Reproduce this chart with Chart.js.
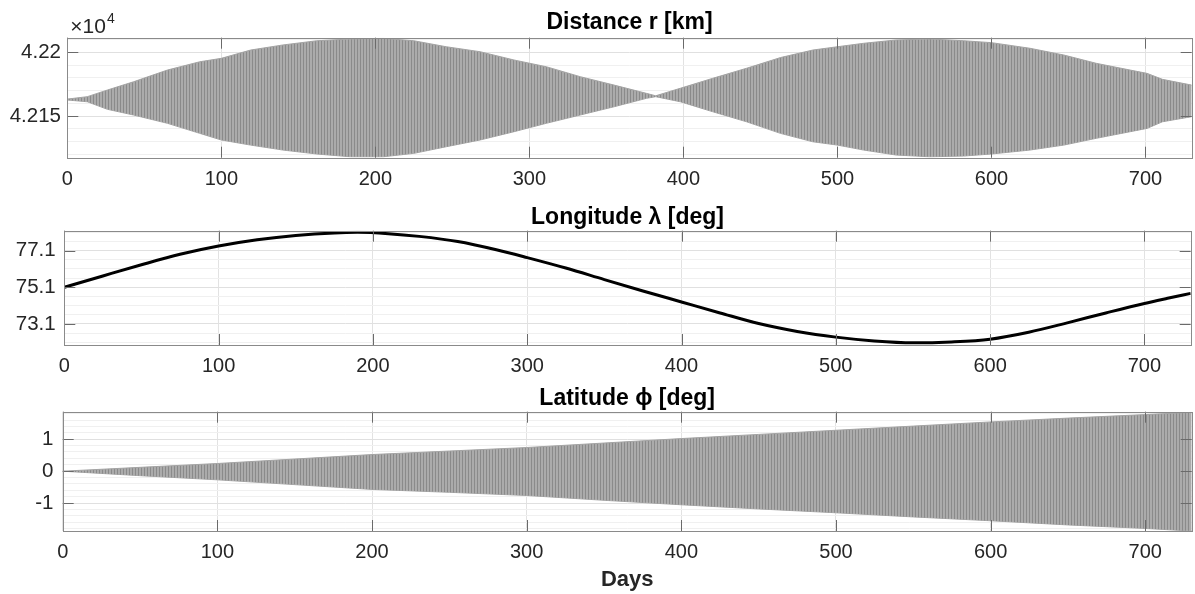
<!DOCTYPE html>
<html><head><meta charset="utf-8">
<script src="https://cdn.jsdelivr.net/npm/chart.js@4.4.1/dist/chart.umd.min.js"></script>
<style>
html,body{margin:0;padding:0;background:#fff;width:1195px;height:594px;overflow:hidden}
canvas{position:absolute;left:0}
</style></head><body>
<canvas id="c1" width="1195" height="195" style="top:0px"></canvas>
<canvas id="c2" width="1195" height="190" style="top:195px"></canvas>
<canvas id="c3" width="1195" height="214" style="top:380px"></canvas>
<script>
// ---------- data ----------
const dayTicks = [0, 100, 200, 300, 400, 500, 600, 700];

// Distance r [km]: envelope of the daily oscillation
const rDays  = [0, 13, 26, 43, 65, 86, 100, 119, 140, 162, 184, 205, 225, 246, 268, 290, 311, 333, 355, 376, 382, 398, 419, 441, 463, 484, 500, 517, 538, 560, 582, 600, 625, 647, 668, 690, 701, 711, 730];
const rUpper = [42163.3, 42165.2, 42170.4, 42176.9, 42186.1, 42192.6, 42195.3, 42201.8, 42205.8, 42209.1, 42210.5, 42211.0, 42209.1, 42204.4, 42200.5, 42194.0, 42188.7, 42180.9, 42174.3, 42167.8, 42165.9, 42171.8, 42179.6, 42187.5, 42195.9, 42201.8, 42204.4, 42207.1, 42209.7, 42210.5, 42209.1, 42207.6, 42203.2, 42197.9, 42191.4, 42186.1, 42183.5, 42178.8, 42174.3];
const rLower = [42162.6, 42161.2, 42155.3, 42150.8, 42144.3, 42136.4, 42131.2, 42127.2, 42123.3, 42120.2, 42118.0, 42118.0, 42120.7, 42125.9, 42131.2, 42137.7, 42144.3, 42150.8, 42157.3, 42163.9, 42165.2, 42161.2, 42153.4, 42145.5, 42136.4, 42129.8, 42127.2, 42123.3, 42119.4, 42118.0, 42118.6, 42120.2, 42123.3, 42127.2, 42132.5, 42137.7, 42140.3, 42145.5, 42149.5];
const rMajorTicks = [42150, 42200];
const rGridTicks  = [42120, 42130, 42140, 42150, 42160, 42170, 42180, 42190, 42200, 42210];

// Longitude lambda [deg]
const lonDays = [0, 25, 50, 75, 100, 125, 150, 175, 190, 210, 230, 255, 280, 300, 325, 350, 375, 400, 425, 450, 475, 500, 525, 550, 575, 600, 625, 650, 675, 700, 715, 730];
const lonVals = [75.10, 75.72, 76.33, 76.90, 77.35, 77.69, 77.93, 78.07, 78.10, 78.03, 77.88, 77.60, 77.15, 76.72, 76.15, 75.52, 74.90, 74.30, 73.70, 73.12, 72.69, 72.38, 72.17, 72.07, 72.12, 72.27, 72.65, 73.16, 73.70, 74.22, 74.50, 74.77];
const lonMajorTicks = [73.1, 75.1, 77.1];
const lonGridTicks  = [72.1, 72.6, 73.1, 73.6, 74.1, 74.6, 75.1, 75.6, 76.1, 76.6, 77.1, 77.6, 78.1];

// Latitude phi [deg]: envelope of the daily oscillation
const latDays  = [0, 50, 100, 150, 200, 250, 300, 350, 400, 450, 500, 550, 600, 650, 700, 730];
const latUpper = [0, 0.12, 0.24, 0.38, 0.52, 0.63, 0.74, 0.88, 1.02, 1.15, 1.28, 1.41, 1.54, 1.66, 1.77, 1.84];
const latLower = [0, -0.14, -0.27, -0.42, -0.57, -0.66, -0.76, -0.91, -1.05, -1.18, -1.30, -1.43, -1.55, -1.68, -1.79, -1.87];
const latMajorTicks = [-1, 0, 1];
const latGridTicks  = [-1.8, -1.6, -1.4, -1.2, -1, -0.8, -0.6, -0.4, -0.2, 0, 0.2, 0.4, 0.6, 0.8, 1, 1.2, 1.4, 1.6, 1.8];

// ---------- styling ----------
const FONT = '"Liberation Sans", Arial, Helvetica, sans-serif';
const TS = 23; // title font size
Chart.defaults.font.family = FONT;
Chart.defaults.color = '#262626';

function stripePattern() {
  const c = document.createElement('canvas'); c.width = 3; c.height = 1;
  const g = c.getContext('2d');
  g.fillStyle = '#ababab'; g.fillRect(0, 0, 3, 1);
  g.fillStyle = '#8a8a8a'; g.fillRect(0, 0, 1, 1);
  return g.createPattern(c, 'repeat');
}
const bandFill = stripePattern();

const isIn = (arr, v) => arr.some(a => Math.abs(a - v) < 1e-6);
const pts = (xs, ys) => xs.map((x, i) => ({ x: x, y: ys[i] }));

const boxPlugin = {
  id: 'box',
  afterDraw(chart, args, opts) {
    const { ctx, chartArea: a, scales } = chart;
    const tl = 11;
    ctx.save();
    ctx.lineWidth = 1;
    ctx.strokeStyle = '#6a6a6a';
    ctx.beginPath();
    for (const t of scales.x.ticks) {
      const px = Math.round(scales.x.getPixelForValue(t.value)) + 0.5;
      ctx.moveTo(px, a.bottom); ctx.lineTo(px, a.bottom - tl);
      ctx.moveTo(px, a.top); ctx.lineTo(px, a.top + tl);
    }
    for (const v of opts.yMajor) {
      const py = Math.round(scales.y.getPixelForValue(v)) + 0.5;
      ctx.moveTo(a.left, py); ctx.lineTo(a.left + tl, py);
      ctx.moveTo(a.right, py); ctx.lineTo(a.right - tl, py);
    }
    ctx.stroke();
    ctx.strokeStyle = '#8a8a8a';
    ctx.strokeRect(Math.round(a.left) + 0.5, Math.round(a.top) + 0.5,
                   Math.round(a.right) - Math.round(a.left), Math.round(a.bottom) - Math.round(a.top));
    if (opts.exponent) {
      ctx.fillStyle = '#262626';
      ctx.textAlign = 'left'; ctx.textBaseline = 'alphabetic';
      ctx.font = '21px ' + FONT;
      ctx.fillText('\u00d710', a.left + 3, a.top - 4.4);
      const w = ctx.measureText('\u00d710').width;
      ctx.font = '14px ' + FONT;
      ctx.fillText(opts.exponent, a.left + 3 + w + 1, a.top - 14.4);
    }
    ctx.restore();
  }
};

function makeChart(id, c) {
  const padTop = c.titleMid - c.top - TS / 2;
  const titlePb = c.T - c.top - padTop - TS;
  const xH = c.canvasH - (c.B - c.top);
  return new Chart(document.getElementById(id), {
    type: 'line',
    data: { datasets: c.datasets },
    plugins: [boxPlugin],
    options: {
      responsive: false, animation: false, events: [],
      layout: { padding: { left: 0, right: 1195 - c.R, top: padTop, bottom: 0 } },
      plugins: {
        legend: { display: false }, tooltip: { enabled: false },
        title: { display: true, text: c.title, fullSize: false, color: '#000',
                 font: { size: TS, weight: 'bold', lineHeight: 1 }, padding: { top: 0, bottom: titlePb } },
        box: { yMajor: c.yMajor, exponent: c.exponent }
      },
      scales: {
        x: {
          type: 'linear', min: 0, max: 730,
          afterBuildTicks: s => { s.ticks = dayTicks.map(v => ({ value: v })); },
          afterFit: s => { s.height = xH; },
          ticks: { font: { size: 20 }, color: '#262626', padding: 9.5, maxRotation: 0, includeBounds: false },
          grid: { color: '#e2e2e2', drawTicks: false },
          border: { display: false },
          title: c.xTitle ? { display: true, text: c.xTitle, color: '#262626',
                  font: { size: 22, weight: 'bold' }, padding: { top: 0, bottom: 1.1 } } : { display: false }
        },
        y: {
          type: 'linear', min: c.yMin, max: c.yMax,
          afterBuildTicks: s => { s.ticks = c.yGrid.map(v => ({ value: v })); },
          afterFit: s => { s.width = c.L; },
          ticks: { font: { size: 20.5 }, color: '#262626', padding: c.yPad, autoSkip: false,
                   callback: v => isIn(c.yMajor, v) ? c.yFmt(v) : '' },
          grid: { drawTicks: false, color: ctx => (ctx.tick && isIn(c.yMajor, ctx.tick.value)) ? '#e0e0e0' : '#f0f0f0' },
          border: { display: false }
        }
      }
    }
  });
}

const band = (xs, up, lo) => [
  { data: pts(xs, up), fill: '+1', backgroundColor: bandFill, borderColor: '#a4a4a4', borderWidth: 1, pointRadius: 0, tension: 0 },
  { data: pts(xs, lo), fill: false, borderColor: '#a4a4a4', borderWidth: 1, pointRadius: 0, tension: 0 }
];

makeChart('c1', {
  top: 0, canvasH: 195, L: 67.3, R: 1191.7, T: 37.7, B: 157.7, titleMid: 23.1,
  title: 'Distance r [km]', yMin: 42117.3, yMax: 42211.5,
  yMajor: rMajorTicks, yGrid: rGridTicks, yPad: 6.3, exponent: '4',
  yFmt: v => String(+(v / 1e4).toFixed(4)),
  datasets: band(rDays, rUpper, rLower)
});

makeChart('c2', {
  top: 195, canvasH: 190, L: 64.3, R: 1190.7, T: 230.7, B: 345, titleMid: 218.1,
  title: 'Longitude \u03bb [deg]', yMin: 71.95, yMax: 78.19,
  yMajor: lonMajorTicks, yGrid: lonGridTicks, yPad: 8.6,
  yFmt: v => v.toFixed(1),
  datasets: [{ data: pts(lonDays, lonVals), borderColor: '#000', borderWidth: 3, pointRadius: 0,
               fill: false, cubicInterpolationMode: 'monotone' }]
});

makeChart('c3', {
  top: 380, canvasH: 214, L: 62.7, R: 1191.7, T: 411.7, B: 531, titleMid: 398.8,
  title: 'Latitude \u03d5 [deg]', yMin: -1.87, yMax: 1.86, xTitle: 'Days',
  yMajor: latMajorTicks, yGrid: latGridTicks, yPad: 9.2,
  yFmt: v => String(Math.round(v)),
  datasets: band(latDays, latUpper, latLower)
});
</script>
</body></html>
